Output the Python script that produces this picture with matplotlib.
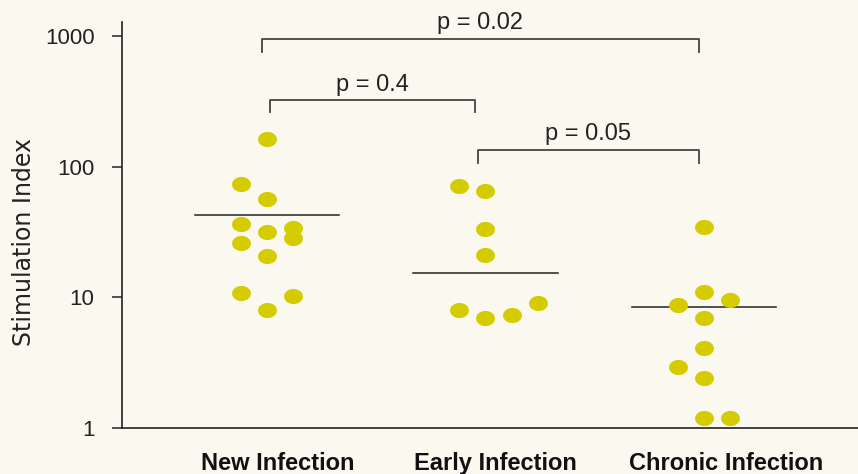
import matplotlib
matplotlib.use("Agg")
import matplotlib.pyplot as plt
import matplotlib.transforms as mtransforms
from matplotlib.path import Path
import numpy as np

# ---- data ----
categories = ["New Infection", "Early Infection", "Chronic Infection"]
new_values = [162, 73, 56.5, 36.6, 34.1, 31.4, 26.2, 28.3, 20.7, 10.8, 10.2, 8.0]
early_values = [70.7, 65.5, 33.5, 21.1, 7.95, 6.9, 7.3, 9.1]
chronic_values = [34.7, 11.0, 9.5, 8.7, 7.0, 4.1, 2.94, 2.4, 1.19, 1.19]
medians = [42.9, 15.4, 8.5]
p_labels = ["p = 0.02", "p = 0.4", "p = 0.05"]
y_ticks = [1, 10, 100, 1000]
y_tick_labels = ["1", "10", "100", "1000"]

# ---- layout (swarm columns, not data) ----
new_cols = [0, -1, 0, -1, 1, 0, -1, 1, 0, -1, 1, 0]
early_cols = [-1, 0, 0, 0, -1, 0, 1, 2]
chronic_cols = [0, 0, 1, -1, 0, 0, -1, 0, 0, 1]
col_step = 0.12

plt.rcParams['font.family'] = ['Liberation Sans', 'DejaVu Sans']

bg = "#FBF9EF"
dot = "#D4CB00"
ink = "#222222"

fig = plt.figure(figsize=(8.58, 4.74), dpi=100, facecolor=bg)
ax = fig.add_axes([121.5 / 858, 1 - 428 / 474, 1 - 121.5 / 858, 406 / 474])
ax.set_facecolor(bg)

# elliptical marker
t = np.linspace(0, 2 * np.pi, 60)
ell = Path(np.column_stack([np.cos(t), 0.8 * np.sin(t)]))

groups = [(new_values, new_cols), (early_values, early_cols), (chronic_values, chronic_cols)]
for i, (vals, cols) in enumerate(groups):
    xs = [i + c * col_step for c in cols]
    ax.scatter(xs, vals, marker=ell, s=185, color=dot, linewidths=0, zorder=3)

ax.set_yscale("log")
ax.set_ylim(1, 10 ** ((428 - 22) / 130.7))
ax.set_xlim(-0.666, 2.705)

# median lines
med_half = 0.33
for i, m in enumerate(medians):
    ax.plot([i - med_half, i + med_half], [m, m], color=ink, lw=1.1, zorder=2)

# brackets
trans = mtransforms.blended_transform_factory(ax.transData, ax.transAxes)
brackets = [(-0.025, 1.975, 0.958, 0.983),
            (0.015, 0.95, 0.8086, 0.831),
            (0.965, 1.975, 0.6847, 0.709)]
for (x0, x1, yb, yt), lab in zip(brackets, p_labels):
    tick = 0.031
    ax.plot([x0, x0, x1, x1], [yb - tick, yb, yb, yb - tick], transform=trans,
            color="#444444", lw=1.3, clip_on=False)
    ax.text((x0 + x1) / 2, yt, lab, transform=trans, ha="center", va="baseline",
            fontsize=17, color=ink)

ax.set_yticks(y_ticks)
ax.set_yticklabels(y_tick_labels)
ax.yaxis.set_minor_locator(matplotlib.ticker.NullLocator())
ax.tick_params(axis="y", direction="out", length=7, width=1.1, pad=12.5, labelsize=16,
               colors=ink)

label_shift = [0.05, 0.045, 0.10]
ax.set_xticks([i + s for i, s in enumerate(label_shift)])
ax.set_xticklabels(categories, fontweight="bold", fontsize=17)
ax.tick_params(axis="x", length=0, pad=17, colors="#111111")

ax.set_ylabel("Stimulation Index", fontsize=17, color=ink, family="DejaVu Sans")
ax.yaxis.set_label_coords(-0.116, 0.457)

for s in ["top", "right"]:
    ax.spines[s].set_visible(False)
for s in ["left", "bottom"]:
    ax.spines[s].set_linewidth(1.2)
    ax.spines[s].set_color(ink)

fig.savefig("out.png", dpi=100, facecolor=bg)
